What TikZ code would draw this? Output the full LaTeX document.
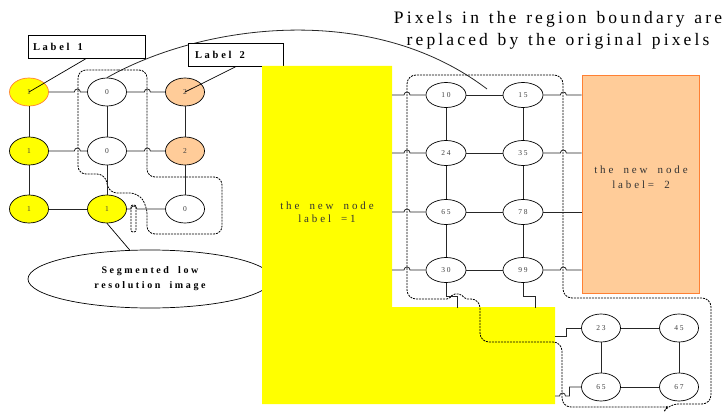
\documentclass[tikz,border=0pt]{standalone}
\usepackage{fontspec}
\setmainfont{Liberation Serif}
\newfontfamily\sptitle[LetterSpace=18, WordSpace=1.3]{Liberation Serif}
\newfontfamily\spwide[LetterSpace=26, WordSpace=1.8]{Liberation Serif}
\usetikzlibrary{shapes.geometric}
\definecolor{yel}{RGB}{255,255,0}
\definecolor{peach}{RGB}{255,204,153}
\definecolor{orng}{RGB}{255,128,51}

\begin{document}
\begin{tikzpicture}[x=1pt,y=-1pt,
  pix/.style={ellipse, draw, line width=0.7pt, fill=white, minimum width=39pt,
    minimum height=28pt, inner sep=0pt, text=black!75,
    font=\spwide\fontsize{7.5}{8}\selectfont},
  mid/.style={pix, minimum width=40pt, minimum height=25pt},
  lnk/.style={line width=0.8pt, black!85},
  bnd/.style={line width=0.8pt, dash pattern=on 2pt off 1pt},
  lab/.style={draw, fill=white, line width=0.7pt, minimum height=23pt, inner ysep=0pt,
    align=left, font=\spwide\bfseries\fontsize{10.5}{12}\selectfont}]
\useasboundingbox (0,0) rectangle (723,412);

% low resolution image, left part
\node[ellipse, draw, line width=0.7pt, minimum width=244pt, minimum height=58pt,
  align=center, font=\spwide\bfseries\fontsize{10}{15}\selectfont] (seg) at (150,279)
  {Segmented low\\resolution image};

\node[pix, fill=yel, draw=orng] (l11) at (29,92) {1};
\node[pix] (l12) at (107,92) {0};
\node[pix, fill=peach] (l13) at (185,92) {2};
\node[pix, fill=yel] (l21) at (29,151) {1};
\node[pix] (l22) at (107,151) {0};
\node[pix, fill=peach] (l23) at (185,151) {2};
\node[pix, fill=yel] (l31) at (29,209) {1};
\node[pix, fill=yel] (l32) at (107,209) {1};
\node[pix] (l33) at (185,209) {0};

\coordinate (tip) at (487,89);
\draw[lnk] (l12.north) .. controls (200,25) and (370,0) .. (tip);

\node[lab, minimum width=117pt, inner xsep=5pt, text width=107pt] (lab1) at (86.5,46.5) {Label\hspace{8pt}1};
\node[lab, minimum width=95pt, inner xsep=7pt, text width=81pt] (lab2) at (235.5,55) {Label\hspace{8pt}2};

% region boundary of the 0 pixels
\draw[bnd, rounded corners=8pt] (110,70) -- (147,70) -- (147,177) -- (222,177)
  -- (222,234) -- (147,234) -- (147,206) -- (138,193) -- (109,193) -- (105,174)
  -- (78,174) -- (78,70) -- cycle;
\draw[bnd, rounded corners=2pt] (131,205) rectangle (136,232);

\draw[lnk] (l11.east) -- ++(25.5,0) arc[start angle=180, end angle=360, radius=3] -- (l12);
\draw[lnk] (l12.east) -- ++(17.5,0) arc[start angle=180, end angle=360, radius=3] -- (l13);
\draw[lnk] (l21.east) -- ++(25.5,0) arc[start angle=180, end angle=360, radius=3] -- (l22);
\draw[lnk] (l22.east) -- ++(17.5,0) arc[start angle=180, end angle=360, radius=3] -- (l23);
\draw[lnk] (l31) -- (l32);
\draw[lnk] (l32.east) -- ++(4,0) arc[start angle=180, end angle=360, radius=3] -- (l33);
\draw[lnk] (l11) -- (l21) -- (l31) (l12) -- (l22) -- (l32) (l13) -- (l23) -- (l33);

\draw[line width=0.7pt] (lab1.south) -- (l11.center);
\draw[line width=0.7pt] (lab2.south) -- (l13.center);
\draw[line width=0.7pt] (l32.south) -- (seg.125);

% merged regions
\fill[yel] (262,66) -- (392,66) -- (392,307) -- (555,307) -- (555,404) -- (262,404) -- cycle;
\coordinate (Y) at (392,0);
\node[align=center, font=\spwide\fontsize{11}{13}\selectfont, text=black!80] (txt1) at (327,212)
  {the new node\\label =1};

\node[draw=orng, fill=peach, line width=0.8pt, minimum width=117pt, minimum height=218pt]
  (new2) at (640.5,184) {};
\node[align=center, font=\spwide\fontsize{11}{15}\selectfont, text=black!80] (txt2) at (641,177)
  {the new node\\label= 2};

% original pixels on the boundary
\draw[bnd, rounded corners=9pt] (480,75) -- (563,75) -- (563,298) -- (711,298)
  -- (711,404) -- (669,404) [rounded corners=1pt] -- (667,407)
  [rounded corners=9pt] -- (562,407) -- (562,342) -- (480,342) -- (480,299)
  [rounded corners=2pt] -- (465,299) -- (461,294) -- (453,294) -- (449,299)
  [rounded corners=9pt] -- (407,299) -- (407,75) -- cycle;

\node[mid] (m11) at (446,95) {10};
\node[mid] (m12) at (523,95) {15};
\node[mid] (m21) at (446,153) {24};
\node[mid] (m22) at (523,153) {35};
\node[mid] (m31) at (446,212) {65};
\node[mid] (m32) at (523,212) {78};
\node[mid] (m41) at (446,270) {30};
\node[mid] (m42) at (523,270) {99};

\draw[lnk] (m11) -- (m12) (m21) -- (m22) (m31) -- (m32) (m41) -- (m42);
\draw[lnk] (m11) -- (m21) -- (m31) -- (m41) (m12) -- (m22) -- (m32) -- (m42);
\foreach \r in {m11,m21,m31,m41}
  \draw[lnk] (\r -| Y) -- ++(12,0) arc[start angle=180, end angle=360, radius=3] -- (\r);
\foreach \r in {m12,m22,m42}
  \draw[lnk] (\r.east) -- ++(17,0) arc[start angle=180, end angle=360, radius=3] -- (\r -| new2.west);
\draw[lnk] (m32) -- (m32 -| new2.west);
\draw[lnk] (m41.south) |- ++(11,14) -- ++(0,11);
\draw[lnk] (m42.south) |- ++(12,14) -- ++(0,11);

\node[pix] (b11) at (601,328) {23};
\node[pix] (b12) at (679,328) {45};
\node[pix] (b21) at (601,387) {65};
\node[pix] (b22) at (679,387) {67};
\draw[lnk] (b11) -- (b12) (b21) -- (b22) (b11) -- (b21) (b12) -- (b22);
\draw[lnk] (b11.west) -| ++(-15,8) -- ++(-11.5,0);
\coordinate (e4) at (555,396);
\draw[lnk] (e4) -- ++(4.5,0) arc[start angle=180, end angle=360, radius=3] -- ++(4,0) |- (b21.west);

\node[align=center, font=\sptitle\fontsize{17.5}{22}\selectfont] (note) at (558,30)
  {Pixels in the region boundary are\\replaced by the original pixels};
\end{tikzpicture}
\end{document}
